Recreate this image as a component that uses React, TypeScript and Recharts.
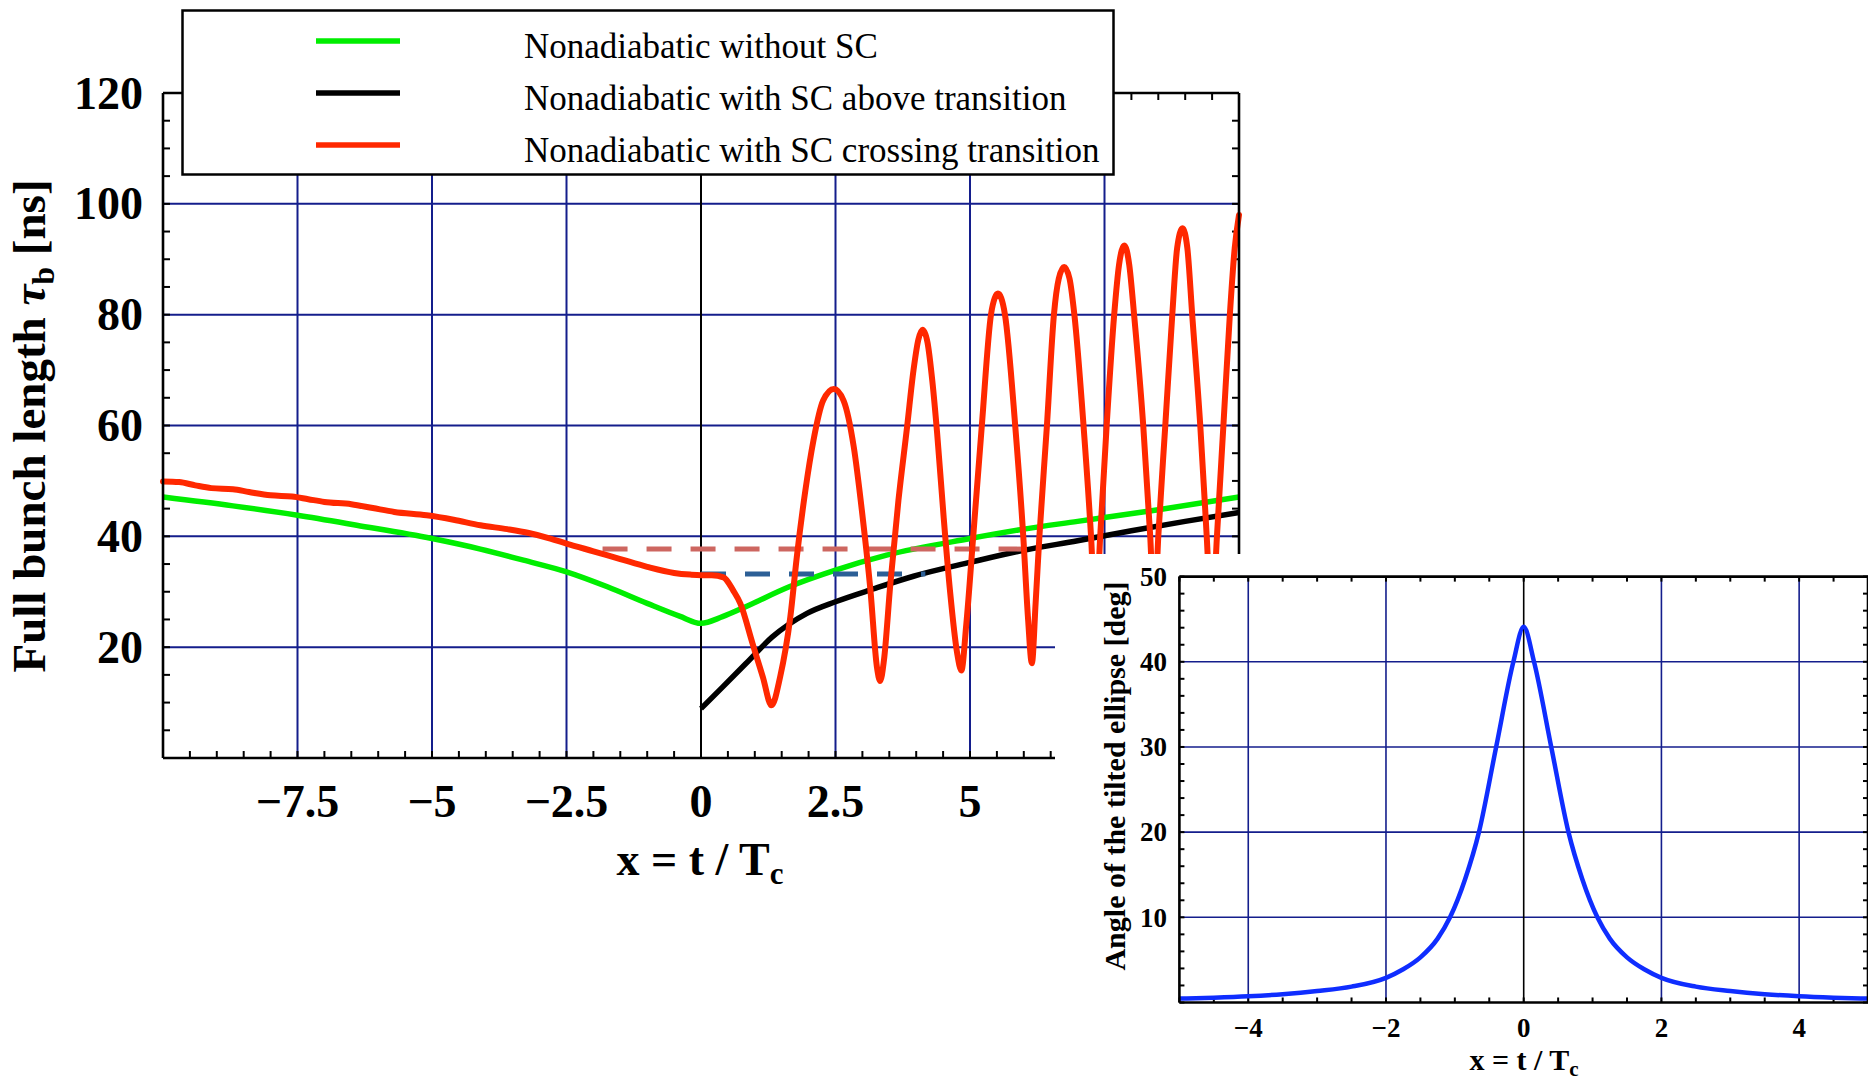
import { LineChart, Line, XAxis, YAxis, ReferenceLine } from 'recharts';

const SERIF = '"Liberation Serif", "Times New Roman", Times, serif';
const GRID = '#141e8c';
const GREEN = '#00ee00';
const RED = '#ff2800';
const BLACK = '#000000';
const PINK = '#cd6660';
const STEEL = '#2c5f96';
const BLUE = '#0f2dff';

// ---- main panel: full bunch length [ns] against x = t / Tc ----
const withoutScX = [-10, -8.7, -7.5, -6.4, -5, -4.1, -3.3, -2.5, -1.74, -1.0, -0.4, 0, 0.4, 0.83, 1.64, 2.5, 3.45, 5.0, 6.0, 7.0, 8.5, 10];
const withoutScY = [47.1, 45.5, 43.8, 42.0, 39.6, 37.7, 35.7, 33.6, 30.9, 27.9, 25.6, 24.3, 25.5, 27.3, 30.9, 33.9, 36.6, 39.6, 41.3, 42.7, 44.8, 47.1];

const aboveX = [0, 0.4, 0.83, 1.32, 1.97, 2.5, 3.2, 3.95, 5.0, 6.0, 7.0, 8.0, 9.0, 10];
const aboveY = [8.9, 12.8, 17.0, 21.8, 26.1, 28.2, 30.5, 32.8, 35.3, 37.5, 39.2, 41.0, 42.7, 44.3];

const crossingX = [
  -10, -9.7, -9.4, -9.1, -8.7, -8.4, -8.0, -7.6, -7.3, -7.0, -6.5, -6.1, -5.7, -5.1, -4.6, -4.1, -3.6, -3.2, -2.8, -2.5,
  -2.0, -1.5, -1.0, -0.5, -0.2, 0, 0.2, 0.42, 0.6, 0.73, 0.96, 1.15, 1.31, 1.47, 1.66, 1.78, 1.94, 2.09, 2.27, 2.47,
  2.65, 2.84, 2.99, 3.15, 3.27, 3.33, 3.4, 3.52, 3.67, 3.83, 3.95, 4.04, 4.12, 4.21, 4.3, 4.39, 4.51, 4.63, 4.76, 4.84,
  4.93, 5.06, 5.22, 5.39, 5.46, 5.52, 5.58, 5.65, 5.84, 5.99, 6.08, 6.15,
  6.22, 6.29, 6.43, 6.56, 6.65, 6.75, 6.85, 6.94, 7.11, 7.25, 7.335,
  7.42, 7.54, 7.68, 7.77, 7.87, 7.96, 8.05, 8.22, 8.35, 8.425,
  8.5, 8.63, 8.76, 8.85, 8.95, 9.04, 9.13, 9.28, 9.4, 9.495,
  9.59, 9.71, 9.83, 9.92, 10,
];
const crossingY = [
  49.9, 49.8, 49.2, 48.7, 48.5, 48.0, 47.4, 47.2, 46.7, 46.2, 45.8, 45.1, 44.4, 43.8, 43.0, 42.0, 41.3, 40.6, 39.6, 38.7,
  37.3, 35.9, 34.5, 33.4, 33.1, 33.0, 33.0, 32.6, 30.2, 27.9, 20.6, 14.6, 9.5, 14.6, 25.4, 36.2, 48.3, 57.3, 64.5, 66.6,
  64.5, 56.1, 44.7, 30.2, 16.4, 13.9, 17.6, 31.5, 46.5, 59.7, 70.0, 75.5, 77.3, 75.0, 68.0, 58.5, 43.5, 30.0, 19.0, 15.8,
  24, 40, 60, 80, 83, 83.8, 83, 80, 60, 40, 25, 17.1,
  28, 40, 60, 80, 86.5, 88.6, 86.5, 80, 60, 40, 25,
  40, 60, 80, 89, 92.5, 89, 80, 60, 40, 26,
  40, 60, 80, 92, 95.6, 92, 80, 60, 40, 24,
  40, 60, 80, 92, 98,
];

// dashed guide levels
const upperLevel = { from: -1.83, to: 5.96, value: 37.7 };
const lowerLevel = { from: 0, to: 4.17, value: 33.2 };

// ---- inset: angle of the tilted ellipse [deg] ----
const tiltX = [-5, -4.5, -4, -3.5, -3, -2.5, -2, -1.75, -1.5, -1.25, -1.07, -0.85, -0.65, -0.4, -0.15, 0, 0.15, 0.4, 0.65, 0.85, 1.07, 1.25, 1.5, 1.75, 2, 2.5, 3, 3.5, 4, 4.5, 5];
const tiltY = [0.46, 0.57, 0.73, 0.98, 1.35, 1.86, 2.9, 3.9, 5.3, 7.5, 10, 14.5, 20, 30, 40, 44.1, 40, 30, 20, 14.5, 10, 7.5, 5.3, 3.9, 2.9, 1.86, 1.35, 0.98, 0.73, 0.57, 0.46];

// tick labels
const mainXLabels = [-7.5, -5, -2.5, 0, 2.5, 5, 7.5, 10];
const mainYLabels = [20, 40, 60, 80, 100, 120];
const insetXLabels = [-4, -2, 0, 2, 4];
const insetYLabels = [10, 20, 30, 40, 50];

const legendNames = ['Nonadiabatic without SC', 'Nonadiabatic with SC above transition', 'Nonadiabatic with SC crossing transition'];
const legendColors = [GREEN, BLACK, RED];

const steps = (a: number, b: number, s: number) =>
  Array.from({ length: Math.round((b - a) / s) + 1 }, (_, i) => +(a + i * s).toFixed(3));
const pairs = (xs: number[], ys: number[]) => xs.map((x, i) => ({ x, y: ys[i] }));
const fmt = (v: number) => (v < 0 ? '\u2212' + Math.abs(v) : String(v));

const mainXTicks = steps(-10, 10, 0.5);
const mainYTicks = steps(0, 120, 5);
const insetXTicks = steps(-5, 5, 0.5);
const insetYTicks = steps(0, 50, 2);

// bold label for the listed values
function tickLabel(side: 'bottom' | 'left', labels: number[], fontSize: number, gap: number) {
  return (p: any) => {
    const v = Number(p.payload.value);
    const x = Number(p.x);
    const y = Number(p.y);
    if (!labels.some((l) => Math.abs(l - v) < 1e-6)) return <g />;
    return side === 'bottom' ? (
      <text x={x} y={y + gap} textAnchor="middle" fontFamily={SERIF} fontWeight="bold" fontSize={fontSize} fill="#000">
        {fmt(v)}
      </text>
    ) : (
      <text x={x - gap} y={y + fontSize * 0.34} textAnchor="end" fontFamily={SERIF} fontWeight="bold" fontSize={fontSize} fill="#000">
        {fmt(v)}
      </text>
    );
  };
}

// inward frame ticks as short segments on all four sides (lengths in data units)
function frameTicks(prefix: string, xs: number[], ys: number[], xd: [number, number], yd: [number, number], lx: number, ly: number) {
  const seg = (key: string, a: { x: number; y: number }, b: { x: number; y: number }) => (
    <ReferenceLine key={key} segment={[a, b]} stroke="#000" strokeWidth={2} ifOverflow="visible" />
  );
  return [
    ...xs.map((v) => seg(`${prefix}b${v}`, { x: v, y: yd[0] }, { x: v, y: yd[0] + ly })),
    ...xs.map((v) => seg(`${prefix}t${v}`, { x: v, y: yd[1] }, { x: v, y: yd[1] - ly })),
    ...ys.map((v) => seg(`${prefix}l${v}`, { x: xd[0], y: v }, { x: xd[0] + lx, y: v })),
    ...ys.map((v) => seg(`${prefix}r${v}`, { x: xd[1], y: v }, { x: xd[1] - lx, y: v })),
  ];
}

const MainYTitle = () => (
  <text transform="translate(45, 426) rotate(-90)" textAnchor="middle" fontFamily={SERIF} fontWeight="bold" fontSize={47} fill="#000">
    Full bunch length <tspan fontStyle="italic">τ</tspan>
    <tspan fontSize={32} dy={9}>b</tspan>
    <tspan dy={-9}> [ns]</tspan>
  </text>
);

const MainXTitle = () => (
  <text x={700} y={875} textAnchor="middle" fontFamily={SERIF} fontWeight="bold" fontSize={46} fill="#000">
    x = t / T<tspan fontSize={31} dy={9}>c</tspan>
  </text>
);

const InsetYTitle = () => (
  <text transform="translate(70, 222) rotate(-90)" textAnchor="middle" fontFamily={SERIF} fontWeight="bold" fontSize={30} fill="#000">
    Angle of the tilted ellipse [deg]
  </text>
);

const InsetXTitle = () => (
  <text x={469} y={516} textAnchor="middle" fontFamily={SERIF} fontWeight="bold" fontSize={30} fill="#000">
    x = t / T<tspan fontSize={21} dy={6}>c</tspan>
  </text>
);

const frame = { stroke: '#000', strokeWidth: 2.6 };

function MainPanel() {
  const plain = { tickSize: 0, tickMargin: 0, interval: 0 as const, tickLine: false, axisLine: frame };
  return (
    <LineChart width={1868} height={1080} margin={{ top: 92, right: 628, bottom: 0, left: 0 }}>
      <XAxis type="number" dataKey="x" domain={[-10, 10]} ticks={mainXTicks} height={322} {...plain}
        tick={tickLabel('bottom', mainXLabels, 46, 59)} label={<MainXTitle />} />
      <XAxis xAxisId="top" orientation="top" type="number" dataKey="x" domain={[-10, 10]} ticks={[]} height={1} {...plain} tick={false} />
      <YAxis type="number" domain={[0, 120]} ticks={mainYTicks} width={163} {...plain}
        tick={tickLabel('left', mainYLabels, 46, 20)} label={<MainYTitle />} />
      <YAxis yAxisId="right" orientation="right" type="number" domain={[0, 120]} ticks={[]} width={1} {...plain} tick={false} />

      {[20, 40, 60, 80, 100].map((v) => (
        <ReferenceLine key={'h' + v} y={v} stroke={GRID} strokeWidth={2} />
      ))}
      {[-7.5, -5, -2.5, 2.5, 5, 7.5].map((v) => (
        <ReferenceLine key={'v' + v} x={v} stroke={GRID} strokeWidth={2} />
      ))}
      <ReferenceLine x={0} stroke={BLACK} strokeWidth={2} />
      {frameTicks('m', mainXTicks, mainYTicks, [-10, 10], [0, 120], 0.13, 1.26)}

      <Line data={pairs(withoutScX, withoutScY)} dataKey="y" type="monotone" stroke={GREEN} strokeWidth={5.5}
        dot={false} activeDot={false} isAnimationActive={false} />
      <Line data={pairs(aboveX, aboveY)} dataKey="y" type="monotone" stroke={BLACK} strokeWidth={5.5}
        dot={false} activeDot={false} isAnimationActive={false} />
      <Line data={[{ x: upperLevel.from, y: upperLevel.value }, { x: upperLevel.to, y: upperLevel.value }]} dataKey="y"
        type="linear" stroke={PINK} strokeWidth={5} strokeDasharray="25 19" dot={false} activeDot={false} isAnimationActive={false} />
      <Line data={[{ x: lowerLevel.from, y: lowerLevel.value }, { x: lowerLevel.to, y: lowerLevel.value }]} dataKey="y"
        type="linear" stroke={STEEL} strokeWidth={5} strokeDasharray="25 19" dot={false} activeDot={false} isAnimationActive={false} />
      <Line data={pairs(crossingX, crossingY)} dataKey="y" type="monotone" stroke={RED} strokeWidth={6}
        strokeLinejoin="round" strokeLinecap="round" dot={false} activeDot={false} isAnimationActive={false} />
    </LineChart>
  );
}

function LegendBox() {
  return (
    <svg width={934} height={167} style={{ position: 'absolute', left: 181, top: 9 }}>
      <rect x={1.5} y={1.5} width={931} height={164} fill="#fff" stroke="#000" strokeWidth={2.5} />
      {legendNames.map((name, i) => (
        <g key={name}>
          <line x1={135} x2={219} y1={32 + i * 52} y2={32 + i * 52} stroke={legendColors[i]} strokeWidth={5.5} />
          <text x={343} y={49 + i * 52} fontFamily={SERIF} fontSize={35} fill="#000">{name}</text>
        </g>
      ))}
    </svg>
  );
}

function InsetPanel() {
  const plain = { tickSize: 0, tickMargin: 0, interval: 0 as const, tickLine: false, axisLine: frame };
  return (
    <LineChart width={814} height={526} margin={{ top: 21.6, right: 0, bottom: 0, left: 0 }}>
      <XAxis type="number" dataKey="x" domain={[-5, 5]} ticks={insetXTicks} height={77.5} {...plain}
        tick={tickLabel('bottom', insetXLabels, 27, 34.5)} label={<InsetXTitle />} />
      <XAxis xAxisId="top" orientation="top" type="number" dataKey="x" domain={[-5, 5]} ticks={[]} height={1} {...plain} tick={false} />
      <YAxis type="number" domain={[0, 50]} ticks={insetYTicks} width={124.4} {...plain}
        tick={tickLabel('left', insetYLabels, 27, 12.4)} label={<InsetYTitle />} />
      <YAxis yAxisId="right" orientation="right" type="number" domain={[0, 50]} ticks={[]} width={1} {...plain} tick={false} />

      {[10, 20, 30, 40].map((v) => (
        <ReferenceLine key={'h' + v} y={v} stroke={GRID} strokeWidth={1.6} />
      ))}
      {[-4, -2, 2, 4].map((v) => (
        <ReferenceLine key={'v' + v} x={v} stroke={GRID} strokeWidth={1.6} />
      ))}
      <ReferenceLine x={0} stroke={BLACK} strokeWidth={1.6} />
      {frameTicks('i', insetXTicks, insetYTicks, [-5, 5], [0, 50], 0.073, 0.59)}

      <Line data={pairs(tiltX, tiltY)} dataKey="y" type="monotone" stroke={BLUE} strokeWidth={4.5}
        dot={false} activeDot={false} isAnimationActive={false} />
    </LineChart>
  );
}

export default function App() {
  return (
    <div style={{ position: 'absolute', left: 0, top: 0, width: 1868, height: 1080, background: '#fff', overflow: 'hidden' }}>
      <div style={{ position: 'absolute', left: 0, top: 0 }}>
        <MainPanel />
      </div>
      <LegendBox />
      <div style={{ position: 'absolute', left: 1055, top: 554, width: 813, height: 526, background: '#fff', overflow: 'hidden' }}>
        <InsetPanel />
      </div>
    </div>
  );
}
